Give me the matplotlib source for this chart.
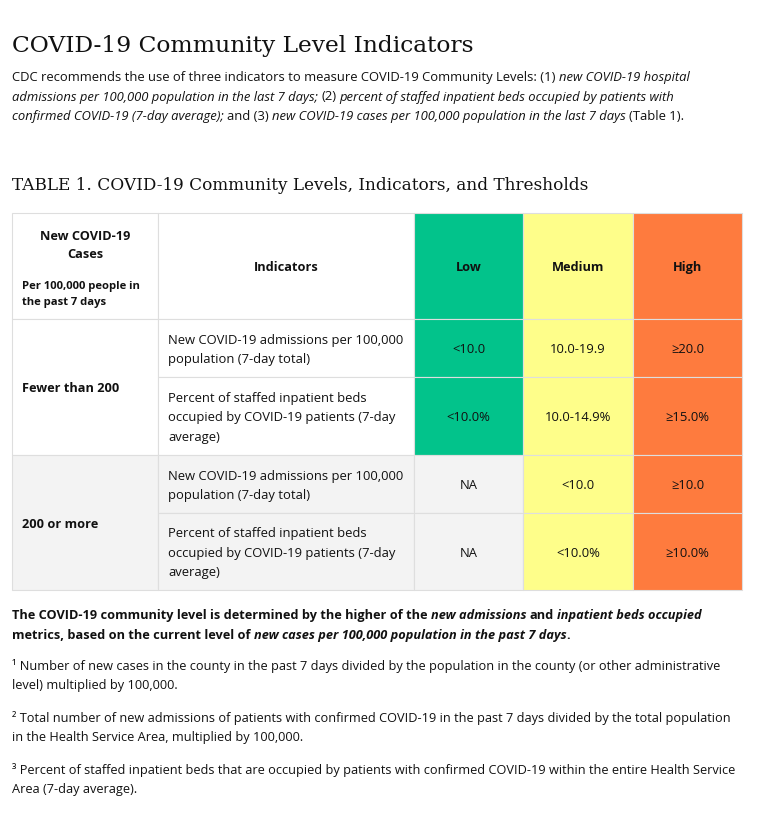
import matplotlib
matplotlib.use('Agg')
import matplotlib.pyplot as plt
from matplotlib.patches import Rectangle

# ---- content ----
title = "COVID-19 Community Level Indicators"
intro_lines = [
    [("CDC recommends the use of three indicators to measure COVID-19 Community Levels: (1) ", 'n'),
     ("new COVID-19 hospital", 'i')],
    [("admissions per 100,000 population in the last 7 days;", 'i'), (" (2) ", 'n'),
     ("percent of staffed inpatient beds occupied by patients with", 'i')],
    [("confirmed COVID-19 (7-day average);", 'i'), (" and (3) ", 'n'),
     ("new COVID-19 cases per 100,000 population in the last 7 days", 'i'), (" (Table 1).", 'n')],
]
table_title = "TABLE 1. COVID-19 Community Levels, Indicators, and Thresholds"

header_cases = ["New COVID-19", "Cases"]
header_cases_sub = ["Per 100,000 people in", "the past 7 days"]
header_indicators = "Indicators"
levels = ["Low", "Medium", "High"]
level_colors = ["#02c38b", "#fefe8a", "#fe7b3e"]
case_groups = ["Fewer than 200", "200 or more"]
indicators = [
    ["New COVID-19 admissions per 100,000", "population (7-day total)"],
    ["Percent of staffed inpatient beds", "occupied by COVID-19 patients (7-day", "average)"],
]
thresholds = [
    ["<10.0", "10.0-19.9", "≥20.0"],
    ["<10.0%", "10.0-14.9%", "≥15.0%"],
    ["NA", "<10.0", "≥10.0"],
    ["NA", "<10.0%", "≥10.0%"],
]

summary_lines = [
    [("The COVID-19 community level is determined by the higher of the ", 'b'), ("new admissions", 'bi'),
     (" and ", 'b'), ("inpatient beds occupied", 'bi')],
    [("metrics, based on the current level of ", 'b'),
     ("new cases per 100,000 population in the past 7 days", 'bi'), (".", 'b')],
]
footnotes = [
    ["¹ Number of new cases in the county in the past 7 days divided by the population in the county (or other administrative",
     "level) multiplied by 100,000."],
    ["² Total number of new admissions of patients with confirmed COVID-19 in the past 7 days divided by the total population",
     "in the Health Service Area, multiplied by 100,000."],
    ["³ Percent of staffed inpatient beds that are occupied by patients with confirmed COVID-19 within the entire Health Service",
     "Area (7-day average)."],
]

# ---- layout (pixels) ----
W, H = 780, 820
SANS = ['Open Sans', 'DejaVu Sans']
SERIF = ['DejaVu Serif']
FS = 9.4   # ~13px
FSB = 9.15  # bold runs a bit narrower in the original
col_x = [12, 158, 414, 523, 633, 742]
row_y = [214, 320, 378, 456, 514, 591]
gray = "#f3f3f3"
grid = "#dedede"
txt = "#111111"

fig = plt.figure(figsize=(W / 100, H / 100), dpi=100)
ax = fig.add_axes([0, 0, 1, 1])
ax.set_xlim(0, W)
ax.set_ylim(H, 0)
ax.axis('off')
r = fig.canvas.get_renderer()


def width(s, **kw):
    t = ax.text(0, 0, s, **kw)
    w = t.get_window_extent(r).width
    t.remove()
    return w


def runs(x, y, parts, size=FS):
    for s, style in parts:
        kw = dict(family=SANS, fontsize=FSB if 'b' in style else size, color=txt,
                  fontweight='bold' if 'b' in style else 'normal',
                  fontstyle='italic' if 'i' in style else 'normal')
        lead = len(s) - len(s.lstrip(' '))
        trail = len(s) - len(s.rstrip(' '))
        sp = width("a a", **kw) - width("aa", **kw)
        x += lead * sp
        core = s.strip(' ')
        ax.text(x, y, core, va='baseline', ha='left', **kw)
        x += width(core, **kw) + trail * sp


ax.text(12, 52, title, family=SERIF, fontsize=16.8, color=txt, va='baseline')
for i, line in enumerate(intro_lines):
    runs(12, 81 + i * 19.5, line)

ax.text(12, 190, table_title, family=SERIF, fontsize=12.2, color=txt, va='baseline')

# ---- table ----
def cell(c0, c1, r0, r1, fc):
    ax.add_patch(Rectangle((col_x[c0], row_y[r0]), col_x[c1] - col_x[c0], row_y[r1] - row_y[r0],
                           facecolor=fc, edgecolor=grid, lw=0.8))


def lines_in(x, yc, lines, ha='left', bold=False, step=19.5, size=None):
    if size is None:
        size = FSB if bold else FS
    y0 = yc - step * (len(lines) - 1) / 2
    for k, s in enumerate(lines):
        ax.text(x, y0 + k * step + 4.5, s, family=SANS, fontsize=size, color=txt,
                fontweight='bold' if bold else 'normal', ha=ha, va='baseline')


# header
cell(0, 1, 0, 1, 'white')
cell(1, 2, 0, 1, 'white')
for j, lv in enumerate(levels):
    cell(2 + j, 3 + j, 0, 1, level_colors[j])
    lines_in((col_x[2 + j] + col_x[3 + j]) / 2, (row_y[0] + row_y[1]) / 2, [lv], ha='center', bold=True)
lines_in((col_x[0] + col_x[1]) / 2, 244.5, header_cases, ha='center', bold=True, step=19)
lines_in(22, 293, header_cases_sub, bold=True, step=16, size=8.1)
lines_in((col_x[1] + col_x[2]) / 2, (row_y[0] + row_y[1]) / 2, [header_indicators], ha='center', bold=True)

# body
for g, grp in enumerate(case_groups):
    bg = 'white' if g == 0 else gray
    cell(0, 1, 1 + 2 * g, 3 + 2 * g, bg)
    lines_in(22, (row_y[1 + 2 * g] + row_y[3 + 2 * g]) / 2, [grp], bold=True)
    for k, ind in enumerate(indicators):
        ri = 1 + 2 * g + k
        cell(1, 2, ri, ri + 1, bg)
        lines_in(168, (row_y[ri] + row_y[ri + 1]) / 2, ind)
        for j, v in enumerate(thresholds[2 * g + k]):
            fc = gray if v == "NA" else level_colors[j]
            cell(2 + j, 3 + j, ri, ri + 1, fc)
            lines_in((col_x[2 + j] + col_x[3 + j]) / 2, (row_y[ri] + row_y[ri + 1]) / 2, [v], ha='center')

# ---- notes ----
for i, line in enumerate(summary_lines):
    runs(12, 619 + i * 20, line)
for n, fn in enumerate(footnotes):
    for i, s in enumerate(fn):
        runs(12, 670 + n * 52 + i * 19.5, [(s, 'n')], size=9.2)

fig.savefig('out.png', dpi=100, facecolor='white')
